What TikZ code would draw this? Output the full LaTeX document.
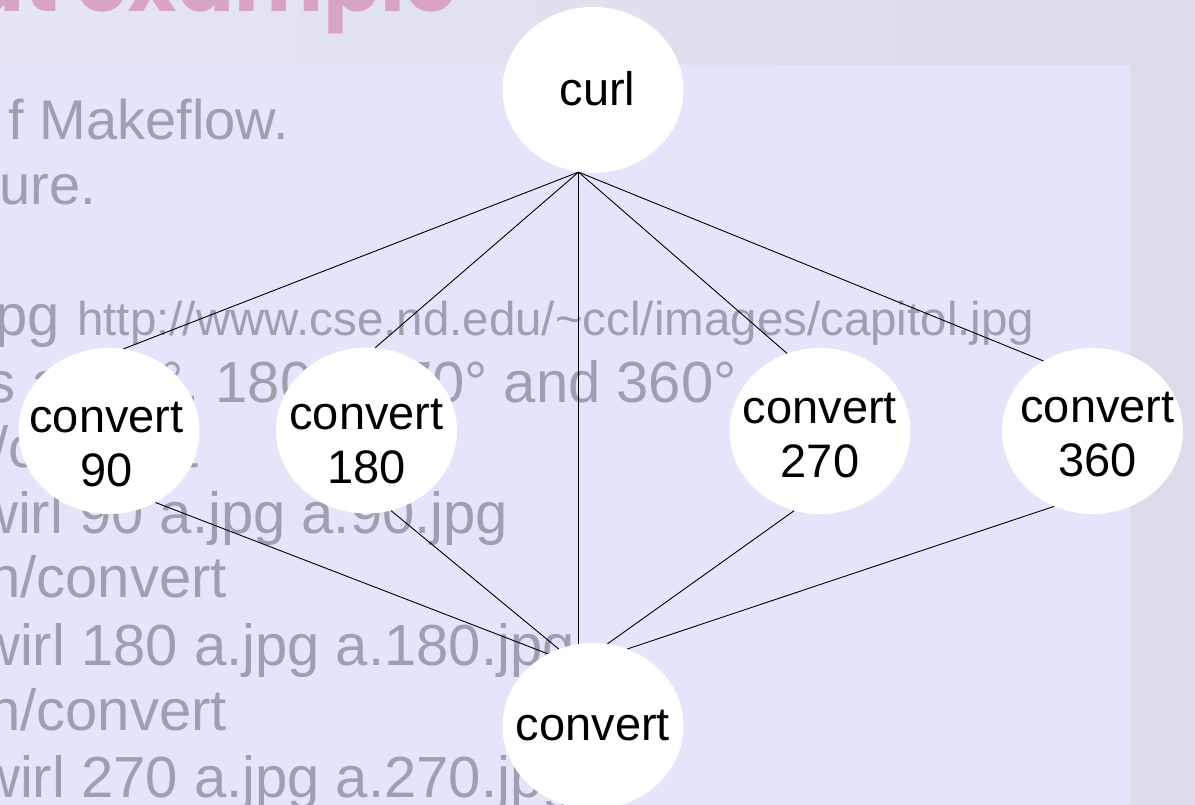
\documentclass[tikz,border=0pt]{standalone}
\usepackage{fontspec}
\setmainfont{Liberation Sans}
\newfontfamily\titlefont{Poppins}
\usetikzlibrary{shapes.geometric}

\definecolor{panelbg}{HTML}{E4E4FA}
\definecolor{outerleft}{HTML}{E6E5F3}
\definecolor{outerright}{HTML}{DCDBEA}
\definecolor{slidegray}{HTML}{A09FB0}
\definecolor{titlepink}{HTML}{D9A2C7}

% text of a bubble: horizontal nudge, baseline drop, content
\newcommand\celltext[3]{\makebox[0pt]{\kern#1\relax\raisebox{#2}[0pt][0pt]{#3}}}
\newcommand\twolines[2]{\begin{tabular}[b]{@{}c@{}}#1\\#2\end{tabular}}

\begin{document}
\begin{tikzpicture}[x=1pt,y=-1pt,
  bubble/.style={ellipse, fill=white, draw=none, inner sep=0pt,
    minimum width=181pt, minimum height=166pt,
    font=\fontsize{47}{54}\selectfont, text=black},
  link/.style={draw=black, line width=0.9pt},
  slidetext/.style={inner sep=0pt, text=slidegray, font=\fontsize{58}{66}\selectfont},
  urltext/.style={inner sep=0pt, text=slidegray, font=\fontsize{47.5}{56}\selectfont},
  titletext/.style={inner sep=0pt, text=titlepink, font=\titlefont\bfseries\fontsize{84}{96}\selectfont}]

\useasboundingbox (0,0) rectangle (1195,805);
\clip (0,0) rectangle (1195,805);

% slide background and content panel
\shade[left color=outerleft, right color=outerright] (0,0) rectangle (1195,805);
\fill[panelbg] (-2,65) rectangle (1130,810);

% slide title and body text behind the graph
\node[titletext, anchor=base east] (title) at (457,12) {at example};

\node[slidetext, anchor=base east, font=\fontsize{56}{66}\selectfont] (l1) at (289,140) {f Makeflow.};
\node[slidetext, anchor=base east, font=\fontsize{56}{66}\selectfont] (l2) at (96,205) {ure.};
\node[slidetext, anchor=base east] (l4a) at (60,335) {pg};
\node[urltext, anchor=base west] (l4b) at (77,335) {http://www.cse.nd.edu/\textasciitilde ccl/images/capitol.jpg};
\node[slidetext, anchor=base east] (l5) at (737,402) {s at 90°, 180°, 270° and 360°};
\node[slidetext, anchor=base west] (l6) at (-40,467) {n/convert};
\node[slidetext, anchor=base west] (l7) at (-24,533) {wirl 90 a.jpg a.90.jpg};
\node[slidetext, anchor=base west] (l8) at (-12,597) {n/convert};
\node[slidetext, anchor=base west] (l9) at (-22,665) {wirl 180 a.jpg a.180.jpg};
\node[slidetext, anchor=base west] (l10) at (-12,730) {n/convert};
\node[slidetext, anchor=base west] (l11) at (-22,797) {wirl 270 a.jpg a.270.jpg};

% graph nodes
\node[bubble] (curl) at (593,90) {\celltext{9pt}{-16pt}{curl}};
\node[bubble] (c90)  at (109,431) {\celltext{-5pt}{-55pt}{\twolines{convert}{90}}};
\node[bubble] (c180) at (366.5,430.5) {\celltext{0pt}{-53pt}{\twolines{convert}{180}}};
\node[bubble] (c270) at (820,431) {\celltext{0pt}{-46pt}{\twolines{convert}{270}}};
\node[bubble] (c360) at (1092.5,431) {\celltext{10pt}{-45pt}{\twolines{convert}{360}}};
\node[bubble] (join) at (593,726) {\celltext{0pt}{-14pt}{convert}};

% dependencies, from border to border
\draw[link] (curl.260) -- (c90.80);
\draw[link] (curl.260) -- (c180.84);
\draw[link] (curl.260) -- (join.100);
\draw[link] (curl.260) -- (c270.113);
\draw[link] (curl.260) -- (c360.125);
\draw[link] (c90.303)  -- (join.122);
\draw[link] (c180.287) -- (join.114);
\draw[link] (c270.252) -- (join.80);
\draw[link] (c360.243) -- (join.66);
\end{tikzpicture}
\end{document}
